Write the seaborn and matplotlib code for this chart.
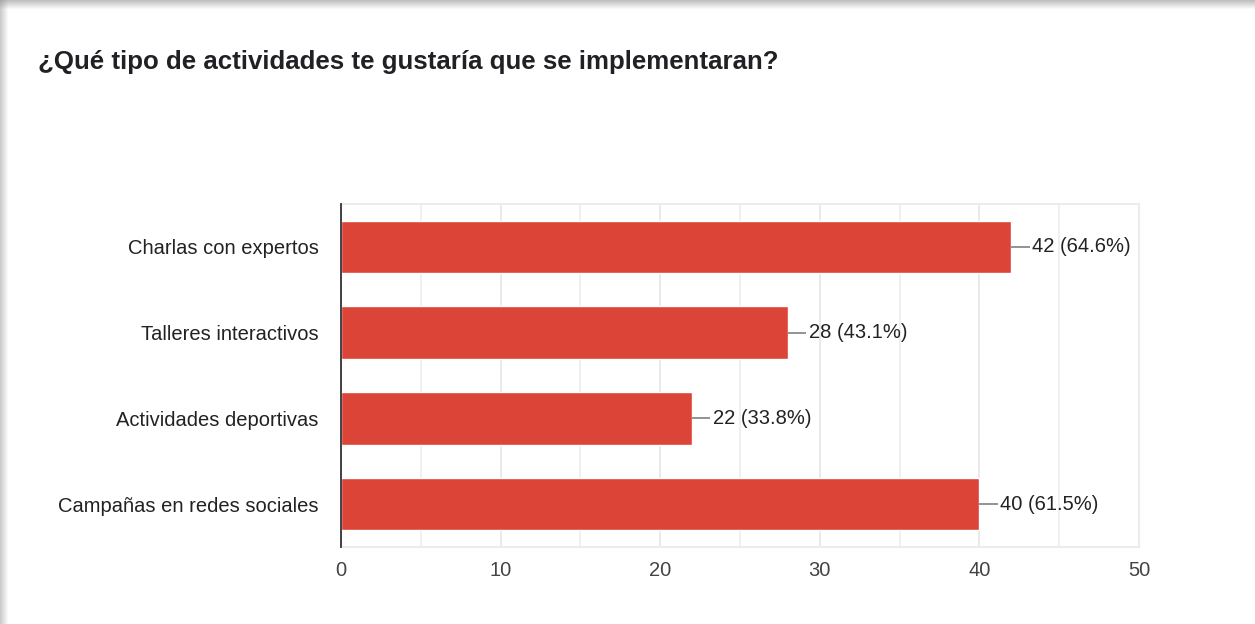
import matplotlib
matplotlib.use("Agg")
import matplotlib.pyplot as plt
import matplotlib.patches as mpatches
import numpy as np
import pandas as pd
import seaborn as sns

# Survey responses
categories = ["Charlas con expertos", "Talleres interactivos",
              "Actividades deportivas", "Campañas en redes sociales"]
counts = [42, 28, 22, 40]
percents = [64.6, 43.1, 33.8, 61.5]
x_ticks = [0, 10, 20, 30, 40, 50]

title = "¿Qué tipo de actividades te gustaría que se implementaran?"

BAR = "#DB4437"
TEXT = "#222222"
TICK = "#444444"

sns.set_theme(style="white")
plt.rcParams["font.family"] = ["Liberation Sans", "DejaVu Sans"]

df = pd.DataFrame({"actividad": categories, "n": counts})

fig = plt.figure(figsize=(12.55, 6.24), dpi=100, facecolor="white")

# card shadow along the top and left edges
for k, a in enumerate(np.linspace(0.55, 0.05, 9)):
    fig.patches.append(mpatches.Rectangle((0, 1 - (k + 1) / 624), 1, 1 / 624,
                                          transform=fig.transFigure,
                                          facecolor=(0.55, 0.55, 0.55, a),
                                          edgecolor="none", zorder=0))
for k, a in enumerate(np.linspace(0.45, 0.05, 8)):
    fig.patches.append(mpatches.Rectangle((k / 1255, 0), 1 / 1255, 1,
                                          transform=fig.transFigure,
                                          facecolor=(0.55, 0.55, 0.55, a),
                                          edgecolor="none", zorder=0))

ax = fig.add_axes([341 / 1255, 1 - 547 / 624, 798 / 1255, 343 / 624])

sns.barplot(data=df, x="n", y="actividad", orient="h", color=BAR,
            saturation=1, width=0.61, ax=ax, zorder=3)

ax.set_xlim(0, 50)
ax.set_ylim(3.5, -0.5)
ax.set_xticks(x_ticks)
ax.set_xticklabels([str(t) for t in x_ticks], fontsize=14.5, color=TICK)
ax.set_xticks(np.arange(5, 50, 10), minor=True)
ax.set_yticks(range(len(categories)))
ax.set_yticklabels(categories, fontsize=14.5, color=TEXT)
ax.tick_params(axis="x", which="both", length=0, pad=10)
ax.tick_params(axis="y", length=0, pad=16)
ax.set_xlabel("")
ax.set_ylabel("")

ax.grid(axis="x", which="major", color="#e6e6e6", linewidth=1.2, zorder=0)
ax.grid(axis="x", which="minor", color="#eeeeee", linewidth=1.2, zorder=0)
for side in ["top", "right", "bottom"]:
    ax.spines[side].set_color("#ececec")
    ax.spines[side].set_linewidth(1.5)
ax.spines["left"].set_color("#333333")
ax.spines["left"].set_linewidth(1.3)
ax.spines["left"].set_zorder(5)

# value labels with short leader lines
for i, (v, p) in enumerate(zip(counts, percents)):
    ax.plot([v, v + 1.15], [i, i], color="#757575", linewidth=1.1,
            zorder=4, solid_capstyle="butt")
    ax.text(v + 1.3, i, f"{v} ({p}%)", va="center", ha="left",
            fontsize=14.5, color=TEXT, zorder=4)

fig.text(38 / 1255, 1 - 62 / 624, title, fontsize=18.6, fontweight="bold",
         color="#202124", va="center", ha="left",
         family=["Liberation Sans", "DejaVu Sans"])

fig.savefig("out.png", dpi=100, facecolor="white")
